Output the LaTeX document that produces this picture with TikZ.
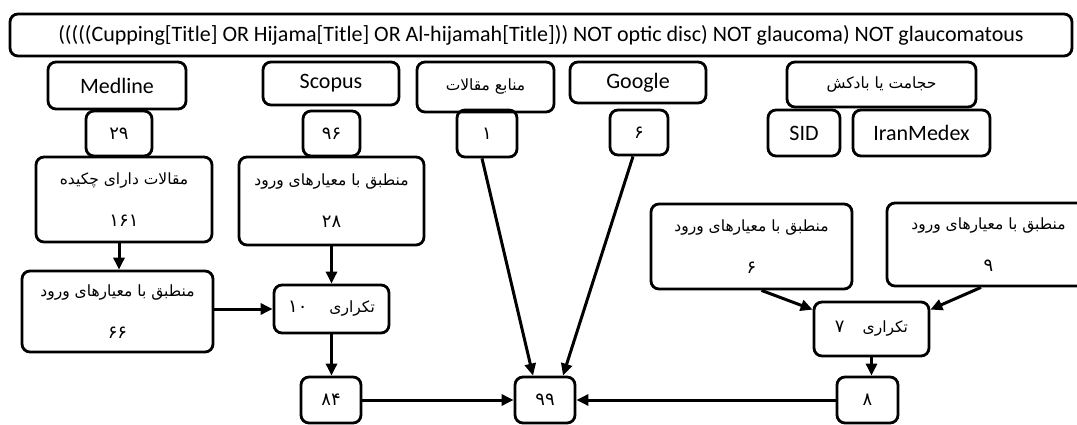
\documentclass[tikz,border=0pt]{standalone}
\usepackage{fontspec}
\setmainfont{Carlito}
\newfontfamily\arabicfont[Script=Arabic]{DejaVu Sans}
\TeXXeTstate=1
\usetikzlibrary{arrows.meta,calc}
\newcommand\faText[1]{{\arabicfont\beginR #1\endR}}
\newcommand\faNum[1]{{\arabicfont\fontsize{18}{20}\selectfont #1}}
\begin{document}
\begin{tikzpicture}[x=1pt,y=-1pt,
  box/.style={draw, line width=2.8pt, rounded corners=8pt, inner sep=0pt, align=center},
  arr/.style={line width=3pt, -{Triangle[length=12pt,width=11pt]}},
  fa/.style={font=\arabicfont\fontsize{15.5}{18}\selectfont},
  en/.style={font=\fontsize{22}{26}\selectfont}]
\useasboundingbox (0,0) rectangle (1077,425);
\fill[white] (0,0) rectangle (1077,425);
% row 1
\node[box,en,minimum width=1062pt,minimum height=42pt] (q) at (541,35) {(((((Cupping[Title] OR Hijama[Title] OR Al-hijamah[Title])) NOT optic disc) NOT glaucoma) NOT glaucomatous};
% row 2
\node[box,en,minimum width=138pt,minimum height=47pt] (medline) at (117,85.5) {Medline};
\node[box,en,minimum width=136pt,minimum height=43pt] (scopus) at (331,83.5) {Scopus};
\node[box,fa,minimum width=137pt,minimum height=50pt] (manabe) at (485.5,87) {\faText{منابع مقالات}};
\node[box,en,minimum width=136pt,minimum height=41pt] (google) at (638,82.5) {Google};
\node[box,fa,minimum width=189pt,minimum height=45pt] (hejamat) at (881.5,84.5) {\faText{حجامت یا بادکش}};
% row 3
\node[box,fa,minimum width=66pt,minimum height=45pt] (n29) at (119,133.5) {\faNum{۲۹}};
\node[box,fa,minimum width=57pt,minimum height=45pt] (n96) at (331.5,133.5) {\faNum{۹۶}};
\node[box,fa,minimum width=60pt,minimum height=47pt] (n1) at (487,133.5) {\faNum{۱}};
\node[box,fa,minimum width=58pt,minimum height=45pt] (n6) at (639,132.5) {\faNum{۶}};
\node[box,en,minimum width=72pt,minimum height=46pt] (sid) at (804,133) {SID};
\node[box,en,minimum width=137pt,minimum height=46pt] (iran) at (921.5,133) {IranMedex};
% row 4
\node[box,fa,minimum width=176pt,minimum height=85pt] (b161) at (124,199.5) {\faText{مقالات دارای چکیده}\\[24pt]\faNum{۱۶۱}};
\node[box,fa,minimum width=185pt,minimum height=88pt] (b28) at (331.5,201) {\faText{منطبق با معیارهای ورود}\\[24pt]\faNum{۲۸}};
\node[box,fa,minimum width=201pt,minimum height=85pt] (r6) at (751.5,246.5) {\faText{منطبق با معیارهای ورود}\\[24pt]\faNum{۶}};
\node[box,fa,minimum width=203pt,minimum height=83pt] (r9) at (988.5,244.5) {\faText{منطبق با معیارهای ورود}\\[24pt]\faNum{۹}};
% row 5
\node[box,fa,minimum width=191pt,minimum height=81pt] (b66) at (117.5,311.5) {\faText{منطبق با معیارهای ورود}\\[24pt]\faNum{۶۶}};
\node[box,fa,minimum width=115pt,minimum height=48pt] (t10) at (331.5,309) {\faText{تکراری\hspace{22pt}\faNum{۱۰}}};
\node[box,fa,minimum width=115pt,minimum height=54pt] (t7) at (871.5,329) {\faText{تکراری\hspace{18pt}\faNum{۷}}};
% row 6
\node[box,fa,minimum width=60pt,minimum height=46pt] (n84) at (331,400) {\faNum{۸۴}};
\node[box,fa,minimum width=60pt,minimum height=46pt] (n99) at (545,400) {\faNum{۹۹}};
\node[box,fa,minimum width=61pt,minimum height=46pt] (n8) at (867.5,400) {\faNum{۸}};
% arrows
\coordinate (a1) at ($(b161.south)+(-5,0)$);
\coordinate (a2) at ($(n1.south)+(-5,0)$);
\coordinate (a3) at ($(n99.north)+(-12,0)$);
\coordinate (a4) at ($(n6.south)+(-6,0)$);
\coordinate (a5) at ($(n99.north)+(18,0)$);
\coordinate (a6) at ($(r6.south)+(10,0)$);
\coordinate (a7) at ($(t7.north west)+(0,9)$);
\coordinate (a8) at ($(r9.south)+(-7.5,0)$);
\coordinate (a9) at ($(t7.north east)+(0,9)$);
\draw[arr] (a1) -- (a1 |- b66.north);
\draw[arr] (b28.south) -- (t10.north);
\draw[arr] (b66.east |- t10.west) -- (t10.west);
\draw[arr] (t10.south) -- (t10.south |- n84.north);
\draw[arr] (n84.east) -- (n99.west);
\draw[arr] (a2) -- (a3);
\draw[arr] (a4) -- (a5);
\draw[arr] (a6) -- (a7);
\draw[arr] (a8) -- (a9);
\draw[arr] (t7.south) -- (t7.south |- n8.north);
\draw[arr] (n8.west) -- (n99.east);
\end{tikzpicture}
\end{document}
